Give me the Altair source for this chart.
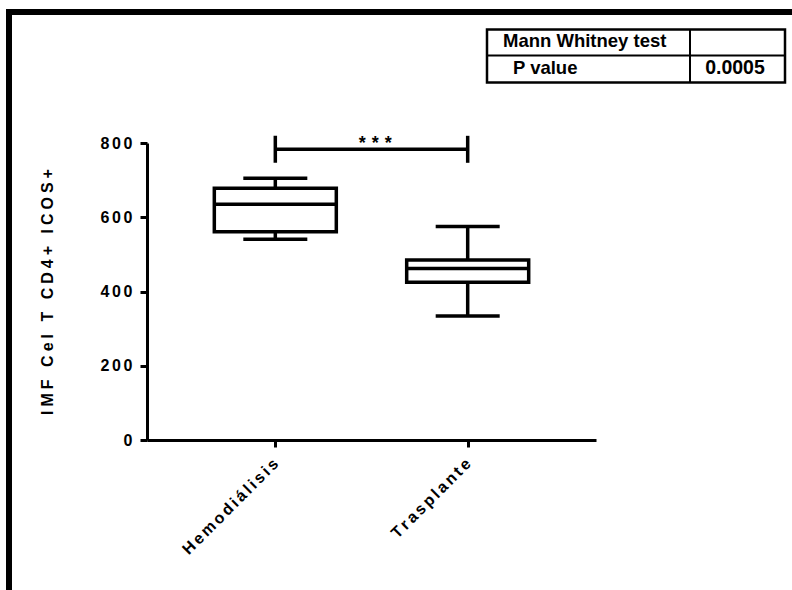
import altair as alt
import pandas as pd

# Box-plot summary per group
groups = ["Hemodiálisis", "Trasplante"]
whisker_low = [541, 334]
q1 = [561, 425]
median = [635, 462]
q3 = [678, 485]
whisker_high = [705, 575]

# Significance bracket between the two groups
sig_level = 783
sig_label = "***"

# Test result table
table_rows = [["Mann Whitney test", ""], ["P value", "0.0005"]]

y_title = "IMF Cel T CD4+ ICOS+"
y_ticks = [0, 200, 400, 600, 800]

FONT = "Liberation Sans"
TRACK = "\u2006"        # letter tracking for tick labels
TITLE_TRACK = "\u2005"  # letter tracking for the axis title
W, H = 449, 297
LEFT, TOP = 147, 143

df = pd.DataFrame({
    "group": groups, "lo": whisker_low, "q1": q1, "med": median,
    "q3": q3, "hi": whisker_high,
})
sig_df = pd.DataFrame({"a": [groups[0]], "b": [groups[1]], "y": [sig_level]})
sig_ends = pd.DataFrame({"group": groups, "y": [sig_level, sig_level]})

x_scale = alt.Scale(type="point", domain=groups, padding=0.667)
y_scale = alt.Scale(domain=[0, 800], nice=False, zero=True)

track_expr = "join(split(datum.label, ''), '" + TRACK + "')"

x_axis = alt.Axis(
    title=None, labelAngle=315, labelAlign="right", labelBaseline="middle",
    labelPadding=14, labelExpr=track_expr, labelFontSize=16,
)
y_axis = alt.Axis(
    title=TITLE_TRACK.join(y_title), values=y_ticks, labelPadding=8,
    labelExpr=track_expr, labelFontSize=16, titlePadding=44,
    titleFontSize=16, titleFont=FONT, titleFontWeight="bold", titleColor="black",
)


def X(field):
    return alt.X(field + ":N", scale=x_scale, axis=x_axis, title=None)


def Y(field):
    return alt.Y(field + ":Q", scale=y_scale, axis=y_axis)


base = alt.Chart(df)

whisk_up = base.mark_rule(color="black", strokeWidth=3.5).encode(
    x=X("group"), y=Y("q3"), y2="hi")
whisk_dn = base.mark_rule(color="black", strokeWidth=3.5).encode(
    x=X("group"), y=Y("lo"), y2="q1")
cap_hi = base.mark_tick(color="black", size=64, thickness=3.5, opacity=1).encode(
    x=X("group"), y=Y("hi"))
cap_lo = base.mark_tick(color="black", size=64, thickness=3.5, opacity=1).encode(
    x=X("group"), y=Y("lo"))
boxes = base.mark_bar(size=122, fill="white", stroke="black", strokeWidth=3.5).encode(
    x=X("group"), y=Y("q1"), y2="q3")
medians = base.mark_tick(color="black", size=124, thickness=3.5, opacity=1).encode(
    x=X("group"), y=Y("med"))

sig_line = alt.Chart(sig_df).mark_rule(color="black", strokeWidth=3.5).encode(
    x=X("a"), x2="b", y=Y("y"))
sig_ticks = alt.Chart(sig_ends).mark_tick(
    color="black", orient="vertical", size=27, thickness=3.5, opacity=1
).encode(x=X("group"), y=Y("y"))
sig_text = alt.Chart(sig_df).mark_text(
    text="\u2004".join(sig_label), font=FONT, fontWeight="bold", fontSize=18,
    align="center", baseline="alphabetic", dx=100, dy=0, color="black",
).encode(x=X("a"), y=Y("y"))

# Outer frame
frame = alt.Chart(df.head(1)).mark_rect(
    fill=None, fillOpacity=0, stroke="black", strokeWidth=6
).encode(x=alt.value(9 - LEFT), x2=alt.value(900 - LEFT),
         y=alt.value(12 - TOP), y2=alt.value(700 - TOP))

# Result table
tx0, tx1, tcol = 487 - LEFT, 785 - LEFT, 690 - LEFT
ty0, ty1, trow = 29.5 - TOP, 82.5 - TOP, 55.5 - TOP
tbl_box = alt.Chart(df.head(1)).mark_rect(
    fill="white", stroke="black", strokeWidth=2.5
).encode(x=alt.value(tx0), x2=alt.value(tx1), y=alt.value(ty0), y2=alt.value(ty1))
tbl_row = alt.Chart(df.head(1)).mark_rule(color="black", strokeWidth=2).encode(
    x=alt.value(tx0), x2=alt.value(tx1), y=alt.value(trow))
tbl_col = alt.Chart(df.head(1)).mark_rule(color="black", strokeWidth=2).encode(
    x=alt.value(tcol), y=alt.value(ty0), y2=alt.value(ty1))
tbl_text = [
    alt.Chart(df.head(1)).mark_text(
        text=table_rows[0][0], font=FONT, fontWeight="bold", fontSize=18.5,
        align="left", baseline="alphabetic", color="black",
    ).encode(x=alt.value(503 - LEFT), y=alt.value(47 - TOP)),
    alt.Chart(df.head(1)).mark_text(
        text=table_rows[1][0], font=FONT, fontWeight="bold", fontSize=18.5,
        align="left", baseline="alphabetic", color="black",
    ).encode(x=alt.value(513 - LEFT), y=alt.value(74 - TOP)),
    alt.Chart(df.head(1)).mark_text(
        text=table_rows[1][1], font=FONT, fontWeight="bold", fontSize=19.5,
        align="center", baseline="alphabetic", color="black",
    ).encode(x=alt.value(735 - LEFT), y=alt.value(74 - TOP)),
]

chart = alt.layer(
    frame, whisk_up, whisk_dn, cap_hi, cap_lo, boxes, medians,
    sig_line, sig_ticks, sig_text, tbl_box, tbl_row, tbl_col, *tbl_text,
).properties(
    width=W, height=H,
    autosize=alt.AutoSizeParams(type="none"),
    padding={"left": LEFT, "top": TOP, "right": 792 - LEFT - W, "bottom": 590 - TOP - H},
    background="white",
).configure_view(stroke=None).configure_axis(
    grid=False, domainColor="black", domainWidth=3, tickColor="black",
    tickWidth=3, tickSize=7, labelFont=FONT, labelFontWeight="bold",
    labelColor="black",
)

chart.save("out.html", embed_options={"renderer": "svg", "actions": False})
